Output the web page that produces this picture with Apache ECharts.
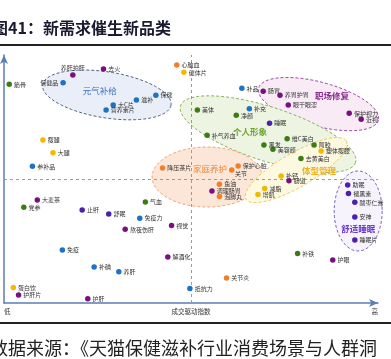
<!DOCTYPE html>
<html><head><meta charset="utf-8">
<script src="https://cdn.jsdelivr.net/npm/echarts@6/dist/echarts.min.js"></script>
<style>html,body{margin:0;padding:0;background:#fff}#c{width:391px;height:359px}</style>
</head><body><div id="c"></div>
<script>
// Data: [label, x (成交驱动指数, 0-100), y (0-100)]
const green = [
 ['筋骨',1.4,88.2],['党参',5.3,38.6],['气血',37.8,40.7],['美体',51.7,77.8],['净颜',62.1,75.7],
 ['补气养血',54.3,67.6],['黑发',69.5,63.7],['维C美白',75.7,66.2],['阿胶',82.9,63.7],['美容颜',71.9,62.0],
 ['去黄美白',79.4,58.3],['补铁',78.5,20.0]
];
const blue = [
 ['保健品',15.8,88.8],['大C片',29.2,79.8],['营养素片',27.3,77.8],['滋补',35.4,81.9],['保健',40.6,83.8],
 ['参补品',7.6,55.1],['免疫力',36.3,34.2],['免疫',15.6,21.4],['补碘',24.1,14.5],['养肝',30.7,12.6],
 ['抵抗力',49.7,5.8],['补品',63.6,86.6],['补充',65.6,78.3]
];
const purple = [
 ['养肝护肝',18.4,91.9],['去火',26.6,94.4],['大麦茶',8.9,41.5],['视觉',44.8,31.2],['熬夜伤肝',32.4,29.7],
 ['解酒化',43.8,18.5],['护肝片',3.9,3.2],['护肝',22.4,1.7],['护眼',87.9,17.3],['肠胃',69.3,85.4],
 ['养胃护胃',73.8,83.8],['眼干眼涩',76.0,79.8],['保护视力',92.3,76.5],['近视',95.5,74.1],
 ['肠道',76.2,49.3],['调理肠胃',55.6,45.2]
];
const indigo = [
 ['止鼾',20.9,37.5],['舒眠',28.0,35.9],['睡眠片',93.8,25.4],['睡眠',71.0,72.5],['助眠',91.9,47.6],
 ['褪黑素',92.1,44.2],['酸枣仁膏',93.8,40.6],['安神',93.8,34.7]
];
const orange = [
 ['心脑血',46.2,96.0],['降压茶片',42.4,54.4],['关节炎',59.5,10.1],['保护心脏',62.6,55.2],
 ['关节',60.9,53.6],['鱼油',57.6,47.9],['泡脚丸',57.6,42.9]
];
const yellow = [
 ['健体片',48.1,93.0],['瘦腿',10.4,65.7],['大腿',13.1,60.6],['蛋白饮',2.5,6.3],['塑体瘦腰',84.8,61.3],
 ['补钙',74.1,51.2],['减脂',69.7,46.2],['增肌',67.9,43.8]
];
// Clusters: name, center (data units), text position (data units)
const clusterNames = ['元气补给','职场修复','个人形象','家庭养护','体型管理','舒适睡眠'];
const clusterCenters = [[27.5,83.9],[84.1,80.2],[70.6,68.1],[54.3,50.8],[78.1,53.6],[94.7,37.1]];
const clusterTextPos = [[25.6,85.5],[87.7,83.5],[65.8,69.0],[55.1,54.0],[84.2,53.2],[94.7,29.8]];
const crossX = 50, crossY = 50;
const xTickLabels = {0:'低',50:'成交驱动指数',100:'高'};

// Styles (not data)
const clusterStyle = [
 {rx:65,ry:23,rot:9,fill:'#e9eef8',stroke:'#55627f',tc:'#3a6cc0',bold:false},
 {rx:62,ry:22,rot:15,fill:'#f8ebf6',stroke:'#9a4aa0',tc:'#8a2a90',bold:true},
 {rx:92,ry:27,rot:18,fill:'#eef4e2',stroke:'#8ab060',tc:'#6aa82a',bold:true},
 {rx:55,ry:30,rot:0,fill:'#fbe6d8',stroke:'#f0a878',tc:'#f08a3a',bold:false},
 {rx:58,ry:17,rot:-30,fill:'#fdf8e0',stroke:'#f0c84a',tc:'#f0b020',bold:true},
 {rx:24,ry:40,rot:0,fill:'#f7f3fc',stroke:'#7a60c0',tc:'#6a3ad0',bold:true}
];
const labelPos = {'保健品':'left','养肝护肝':'top','关节':[6,3]};
const FONT = '"Noto Sans CJK SC", sans-serif';

function mk(arr){
  return arr.map(d=>{
    const o = {name:d[0], value:[d[1],d[2]]};
    if (labelPos[d[0]]) o.label = {position: labelPos[d[0]]};
    return o;
  });
}
function sc(name, arr, color){
  return {type:'scatter', name, data:mk(arr), symbolSize:5.5, z:5,
    itemStyle:{color:color, opacity:1},
    label:{show:true, position:'right', distance:2, formatter:'{b}', fontSize:6, color:'#333', fontFamily:FONT},
    emphasis:{disabled:true}};
}

const chart = echarts.init(document.getElementById('c'), null, {renderer:'canvas'});
chart.setOption({
  animation:false,
  backgroundColor:'#fff',
  grid:{left:4, right:13, top:55, bottom:56},
  xAxis:{type:'value', min:0, max:100, interval:50,
    axisLine:{show:true, symbol:['none','arrow'], symbolSize:[6,9], lineStyle:{color:'#5b7db5', width:1.5}},
    axisTick:{show:false}, splitLine:{show:false},
    axisLabel:{show:true, fontSize:6.5, color:'#333', margin:5, fontFamily:FONT, alignMinLabel:'left', alignMaxLabel:'right',
      formatter:v=>xTickLabels[v]||''}},
  yAxis:{type:'value', min:0, max:100,
    axisLine:{show:true, onZero:false, symbol:['none','arrow'], symbolSize:[6,9], lineStyle:{color:'#5b7db5', width:1.5}},
    axisTick:{show:false}, splitLine:{show:false}, axisLabel:{show:false}},
  graphic:[
    {type:'text', left:-8, top:20, style:{text:'图41：新需求催生新品类', font:'bold 16px '+FONT, fill:'#1a1a30'}},
    {type:'rect', shape:{x:0,y:44,width:391,height:2}, style:{fill:'#222'}},
    {type:'rect', shape:{x:0,y:322,width:391,height:2}, style:{fill:'#222'}},
    {type:'text', left:-10, top:339, style:{text:'数据来源：《天猫保健滋补行业消费场景与人群洞', font:'18px '+FONT, fill:'#222'}}
  ],
  series:[
    {type:'custom', z:1, clip:false, silent:true,
     data: clusterCenters.map((c,i)=>[c[0],c[1],i]),
     renderItem:(params, api)=>{
       const i = api.value(2);
       const s = clusterStyle[i];
       const c = api.coord([api.value(0), api.value(1)]);
       const th = s.rot*Math.PI/180, pts=[];
       for(let k=0;k<90;k++){
         const t=k/90*Math.PI*2, x=s.rx*Math.cos(t), y=s.ry*Math.sin(t);
         pts.push([c[0]+x*Math.cos(th)-y*Math.sin(th), c[1]+x*Math.sin(th)+y*Math.cos(th)]);
       }
       const tp = api.coord(clusterTextPos[i]);
       return {type:'group', children:[
         {type:'polygon', shape:{points:pts}, style:{fill:s.fill, stroke:s.stroke, lineWidth:1, lineDash:[3,2]}},
         {type:'text', x:tp[0], y:tp[1], z2:10, style:{text:clusterNames[i], fill:s.tc, align:'center', verticalAlign:'middle',
           font:(s.bold?'bold ':'')+'8.5px '+FONT}}
       ]};
     }},
    {type:'scatter', data:[], z:3, silent:true,
     markLine:{silent:true, symbol:'none', label:{show:false},
       lineStyle:{color:'#9a9a9a', type:[3,3], width:1},
       data:[{xAxis:crossX},{yAxis:crossY}]}},
    sc('元气', blue, '#1a73c9'),
    sc('个人', green, '#3b7d12'),
    sc('职场', purple, '#7a1080'),
    sc('睡眠', indigo, '#4b1fb0'),
    sc('家庭', orange, '#f07f2a'),
    sc('体型', yellow, '#f5b800')
  ]
});
</script></body></html>
